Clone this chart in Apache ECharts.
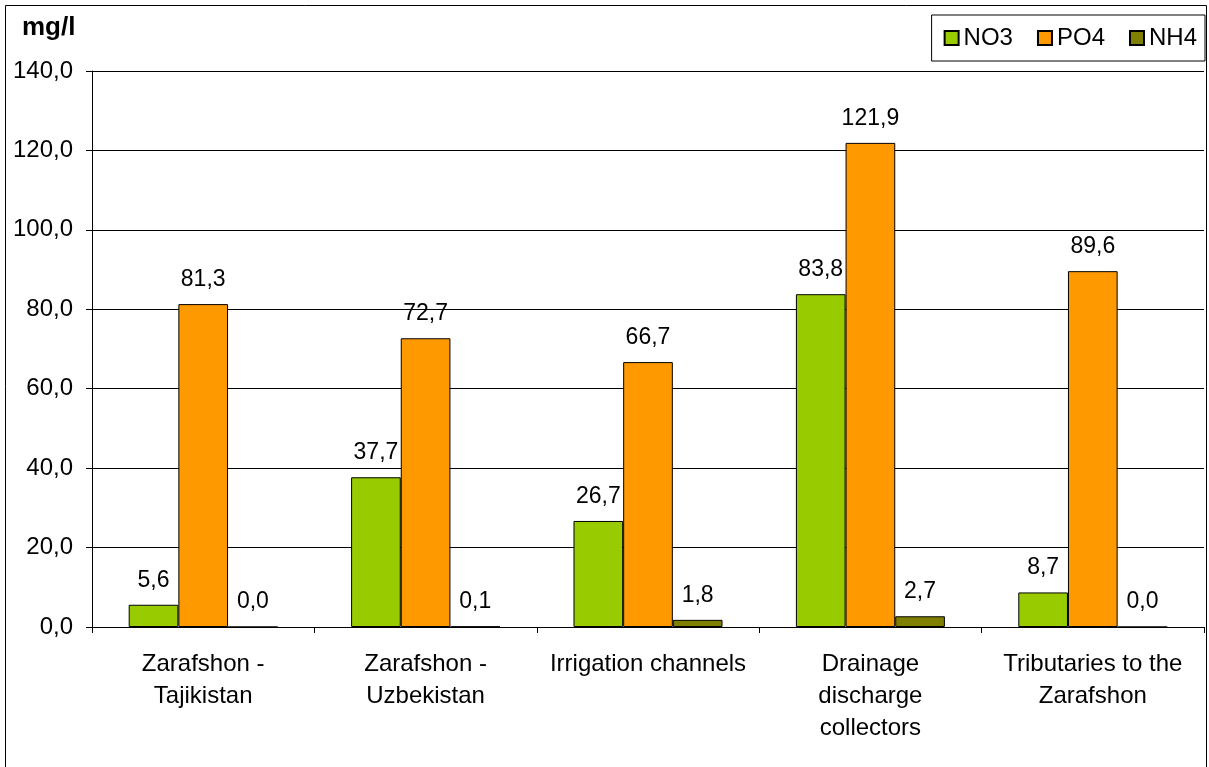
<!DOCTYPE html>
<html>
<head>
<meta charset="utf-8">
<script src="https://cdn.jsdelivr.net/npm/echarts@6/dist/echarts.min.js"></script>
<style>
  html, body { margin: 0; padding: 0; background: #fff; }
  #chart { width: 1209px; height: 767px; }
</style>
</head>
<body>
<div id="chart"></div>
<script>
// ── Data ──
const categories = [
  'Zarafshon -\nTajikistan',
  'Zarafshon -\nUzbekistan',
  'Irrigation channels',
  'Drainage\ndischarge\ncollectors',
  'Tributaries to the\nZarafshon'
];
const no3 = [5.6, 37.7, 26.7, 83.8, 8.7];
const po4 = [81.3, 72.7, 66.7, 121.9, 89.6];
const nh4 = [0.0, 0.1, 1.8, 2.7, 0.0];

const FONT = '"Liberation Sans", Arial, sans-serif';
const fmt = v => v.toFixed(1).replace('.', ',');

const chart = echarts.init(document.getElementById('chart'));

function barSeries(name, data, color) {
  return {
    name,
    type: 'bar',
    data,
    barGap: '0%',
    barCategoryGap: '33%',
    itemStyle: { color, borderColor: '#000', borderWidth: 1 },
    label: {
      show: true,
      position: 'top',
      distance: 13,
      color: '#000',
      fontFamily: FONT,
      fontSize: 23,
      formatter: p => fmt(p.value)
    }
  };
}

chart.setOption({
  backgroundColor: '#fff',
  animation: false,
  textStyle: { fontFamily: FONT },
  graphic: [
    { type: 'rect', shape: { x: 5.5, y: 5.5, width: 1201, height: 800 },
      style: { fill: 'none', stroke: '#000', lineWidth: 1 }, silent: true },
    { type: 'text', left: 22, top: 15,
      style: { text: 'mg/l', font: 'bold 26px ' + FONT, fill: '#000' } }
  ],
  legend: {
    right: 4,
    top: 15,
    itemWidth: 14,
    itemHeight: 14,
    itemGap: 24,
    padding: [11, 8, 11, 12],
    borderColor: '#000',
    borderWidth: 1,
    icon: 'rect',
    textStyle: { fontFamily: FONT, fontSize: 24, color: '#000' },
    data: ['NO3', 'PO4', 'NH4']
  },
  grid: { left: 92, right: 5, top: 71, bottom: 140 },
  xAxis: {
    type: 'category',
    data: categories,
    axisLine: { lineStyle: { color: '#000', width: 1 } },
    axisTick: { show: true, length: 6, lineStyle: { color: '#000' } },
    axisLabel: {
      color: '#000', fontFamily: FONT, fontSize: 24, lineHeight: 32,
      margin: 21, interval: 0
    }
  },
  yAxis: {
    type: 'value',
    min: 0,
    max: 140,
    interval: 20,
    axisLine: { show: true, lineStyle: { color: '#000', width: 1 } },
    axisTick: { show: true, length: 6, lineStyle: { color: '#000' } },
    splitLine: { lineStyle: { color: '#000', width: 1 } },
    axisLabel: {
      color: '#000', fontFamily: FONT, fontSize: 24, margin: 19,
      formatter: v => fmt(v)
    }
  },
  series: [
    barSeries('NO3', no3, '#99cc00'),
    barSeries('PO4', po4, '#ff9900'),
    barSeries('NH4', nh4, '#808000')
  ]
});
</script>
</body>
</html>
